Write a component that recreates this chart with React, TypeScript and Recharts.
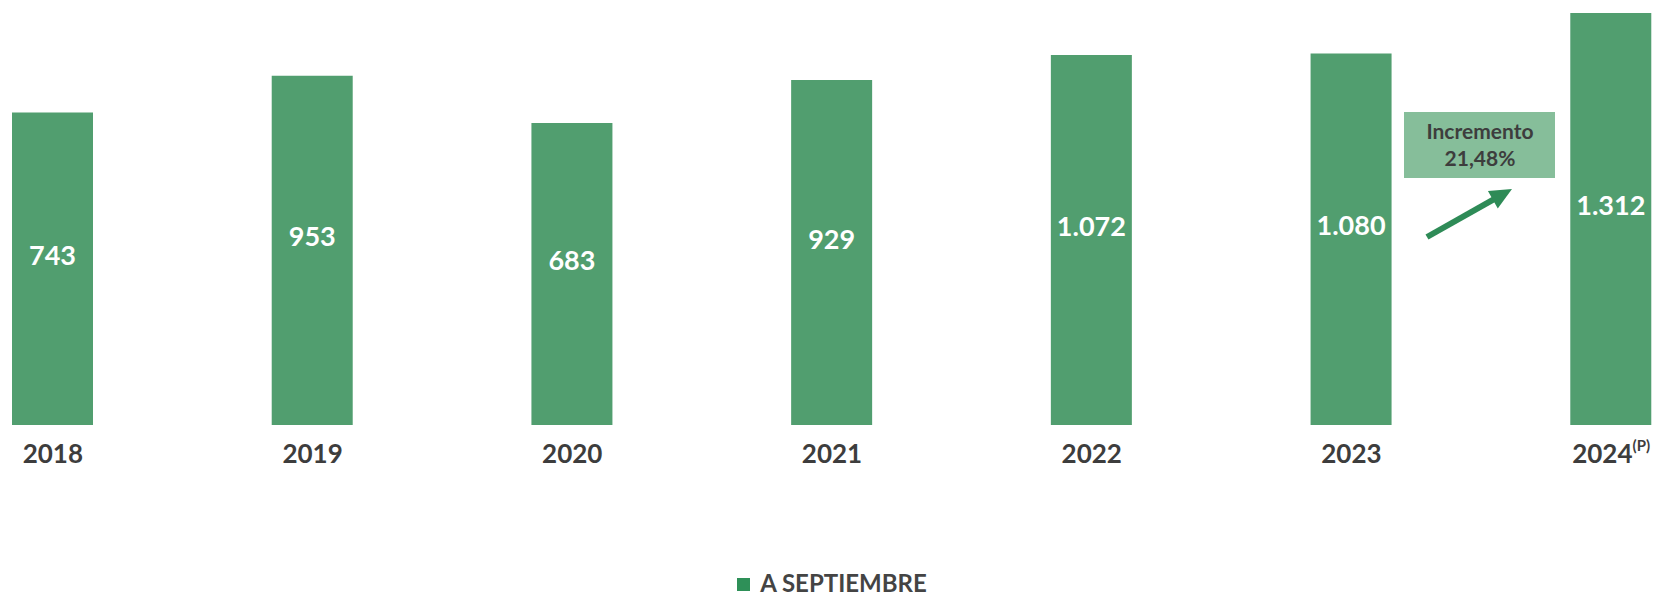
import { BarChart, Bar, XAxis, YAxis, Legend } from 'recharts';

const years = ['2018', '2019', '2020', '2021', '2022', '2023', '2024'];
const yearNotes = ['', '', '', '', '', '', '(P)'];
const toSeptember = [743, 953, 683, 929, 1072, 1080, 1312];
const seriesName = 'A SEPTIEMBRE';
const growthText = ['Incremento', '21,48%'];

// the source chart's value axis does not start at zero
const AXIS_MIN = -1043;
const AXIS_MAX = 1312;

const BAR = '#519E6F';
const DARK = '#3D3D3D';
const FONT = 'Lato, "Open Sans", sans-serif';

const data = years.map((year, i) => ({ year, value: toSeptember[i] }));

const fmt = (v: number) => v.toLocaleString('de-DE');

function YearTick(props: any) {
  const { x, y, payload } = props;
  const i = years.indexOf(payload.value);
  const note = yearNotes[i];
  return (
    <text x={x} y={y + 30} textAnchor="middle" fill={DARK} fontFamily={FONT} fontWeight={700} fontSize={26}>
      <tspan>{payload.value}</tspan>
      {note && (
        <tspan fontSize={15} dy={-12}>{note}</tspan>
      )}
    </text>
  );
}

function ValueLabel(props: any) {
  const { x, y, width, height, index } = props;
  return (
    <text
      x={x + width / 2}
      y={y + height / 2 - 4}
      textAnchor="middle"
      fill="#fff"
      fontFamily={FONT}
      fontWeight={700}
      fontSize={27}
    >
      {fmt(toSeptember[index])}
    </text>
  );
}

function LegendBox() {
  return (
    <div style={{ display: 'flex', justifyContent: 'center', alignItems: 'center', height: 30 }}>
      <span style={{ width: 13, height: 13, background: '#2E9058', display: 'inline-block', marginRight: 10, marginTop: 4 }} />
      <span style={{ fontFamily: FONT, fontWeight: 700, fontSize: 24, color: '#444' }}>{seriesName}</span>
    </div>
  );
}

// growth note between the last two bars
function GrowthNote() {
  const tip = { x: 1512, y: 189 };
  const tail = { x: 1427, y: 237 };
  const dx = tip.x - tail.x;
  const dy = tip.y - tail.y;
  const len = Math.hypot(dx, dy);
  const ux = dx / len;
  const uy = dy / len;
  const bx = tip.x - ux * 22;
  const by = tip.y - uy * 22;
  const head = `${tip.x},${tip.y} ${bx - uy * 10},${by + ux * 10} ${bx + uy * 10},${by - ux * 10}`;
  return (
    <svg width={1660} height={597} style={{ position: 'absolute', left: 0, top: 0, pointerEvents: 'none' }}>
      <rect x={1404} y={112} width={151} height={66} fill="#86BE9A" />
      <text x={1480} y={139} textAnchor="middle" fill={DARK} fontFamily={FONT} fontWeight={700} fontSize={21}>
        {growthText[0]}
      </text>
      <text x={1480} y={166} textAnchor="middle" fill={DARK} fontFamily={FONT} fontWeight={700} fontSize={21}>
        {growthText[1]}
      </text>
      <line x1={tail.x} y1={tail.y} x2={bx + ux * 2} y2={by + uy * 2} stroke="#2E8B57" strokeWidth={6} />
      <polygon points={head} fill="#2E8B57" />
    </svg>
  );
}

export default function App() {
  return (
    <div style={{ position: 'absolute', left: 0, top: 0, width: 1660, height: 597, background: '#fff' }}>
      <BarChart width={1660} height={597} data={data} margin={{ top: 13, right: -81, left: -77, bottom: 0 }}>
        <XAxis dataKey="year" axisLine={false} tickLine={false} height={142} tick={<YearTick />} interval={0} />
        <YAxis hide type="number" domain={[AXIS_MIN, AXIS_MAX]} />
        <Legend verticalAlign="bottom" content={<LegendBox />} />
        <Bar
          dataKey={(d: any) => [AXIS_MIN, d.value]}
          name={seriesName}
          fill={BAR}
          barSize={81}
          isAnimationActive={false}
          label={<ValueLabel />}
        />
      </BarChart>
      <GrowthNote />
    </div>
  );
}
